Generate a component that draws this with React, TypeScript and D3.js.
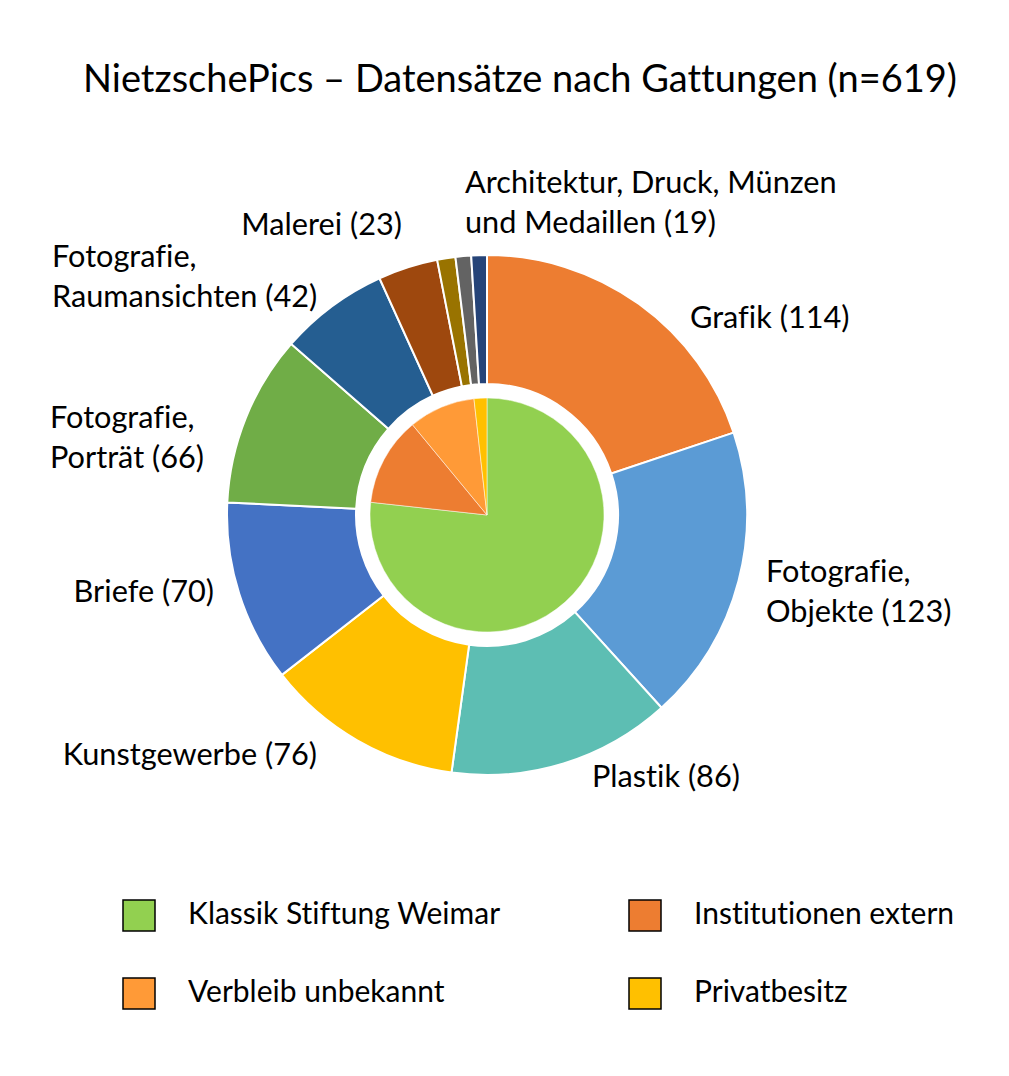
import React from "react";
import * as d3 from "d3";

// ---- data ----
const titleText = "NietzschePics – Datensätze nach Gattungen (n=619)";

// outer ring: categories clockwise from 12 o'clock, slice sizes as drawn in the picture
const outerCategories = [
  "Grafik",
  "Fotografie, Objekte",
  "Plastik",
  "Kunstgewerbe",
  "Briefe",
  "Fotografie, Porträt",
  "Fotografie, Raumansichten",
  "Malerei",
  "Architektur",
  "Druck",
  "Münzen und Medaillen",
];
const outerValues = [123, 114, 86, 76, 70, 66, 42, 23, 7, 6, 6];

// data labels exactly as printed
const outerLabelLines: string[][] = [
  ["Grafik (114)"],
  ["Fotografie,", "Objekte (123)"],
  ["Plastik (86)"],
  ["Kunstgewerbe (76)"],
  ["Briefe (70)"],
  ["Fotografie,", "Porträt (66)"],
  ["Fotografie,", "Raumansichten (42)"],
  ["Malerei (23)"],
  ["Architektur, Druck, Münzen", "und Medaillen (19)"],
];

// inner pie: holding institution
const innerCategories = [
  "Klassik Stiftung Weimar",
  "Institutionen extern",
  "Verbleib unbekannt",
  "Privatbesitz",
];
const innerValues = [475, 76, 57, 11];

// ---- styles / layout ----
const outerColors = [
  "#ED7D31",
  "#5B9BD5",
  "#5DBEB3",
  "#FFC000",
  "#4472C4",
  "#70AD47",
  "#255E91",
  "#9E480E",
  "#997300",
  "#636363",
  "#264478",
];
const innerColors = ["#92D050", "#ED7D31", "#FF9A37", "#FFC000"];

// label anchor positions (x, first baseline, anchor)
const labelLayout: { x: number; y: number; anchor: "start" | "end" }[] = [
  { x: 690, y: 328, anchor: "start" },
  { x: 766, y: 582, anchor: "start" },
  { x: 592, y: 787, anchor: "start" },
  { x: 317, y: 765, anchor: "end" },
  { x: 214, y: 602, anchor: "end" },
  { x: 50, y: 428, anchor: "start" },
  { x: 52, y: 267, anchor: "start" },
  { x: 402, y: 235, anchor: "end" },
  { x: 465, y: 193, anchor: "start" },
];

const legendLayout = [
  { x: 123, y: 900 },
  { x: 629, y: 900 },
  { x: 123, y: 978 },
  { x: 629, y: 978 },
];

const W = 1009;
const H = 1076;
const cx = 487;
const cy = 515;
const FONT = "Lato, 'Open Sans', sans-serif";
const noLig: React.CSSProperties = {
  fontVariantLigatures: "none",
  fontFeatureSettings: '"liga" 0, "clig" 0',
};

export default function App() {
  const outerPie = d3
    .pie<number>()
    .sort(null)
    .value((d) => d)(outerValues);
  const innerPie = d3
    .pie<number>()
    .sort(null)
    .value((d) => d)(innerValues);

  const outerArc = d3
    .arc<d3.PieArcDatum<number>>()
    .innerRadius(131)
    .outerRadius(260);
  const innerArc = d3
    .arc<d3.PieArcDatum<number>>()
    .innerRadius(0)
    .outerRadius(117);

  return (
    <svg
      width={W}
      height={H}
      viewBox={`0 0 ${W} ${H}`}
      style={{ position: "absolute", left: 0, top: 0, background: "#fff", ...noLig }}
      fontFamily={FONT}
    >
      <rect x={0} y={0} width={W} height={H} fill="#fff" />
      <text x={520} y={92} textAnchor="middle" fontSize={38} fill="#000" style={noLig}>
        {titleText}
      </text>

      <g transform={`translate(${cx},${cy})`}>
        {outerPie.map((d, i) => (
          <path
            key={outerCategories[i]}
            d={outerArc(d) || ""}
            fill={outerColors[i]}
            stroke="#fff"
            strokeWidth={2}
          />
        ))}
        {innerPie.map((d, i) => (
          <path
            key={innerCategories[i]}
            d={innerArc(d) || ""}
            fill={innerColors[i]}
            stroke="#fff"
            strokeWidth={0.5}
          />
        ))}
      </g>

      {outerLabelLines.map((lines, i) => (
        <text
          key={i}
          x={labelLayout[i].x}
          y={labelLayout[i].y}
          textAnchor={labelLayout[i].anchor}
          fontSize={30.7}
          fill="#000"
          style={noLig}
        >
          {lines.map((ln, j) => (
            <tspan key={j} x={labelLayout[i].x} dy={j === 0 ? 0 : 39.5}>
              {ln}
            </tspan>
          ))}
        </text>
      ))}

      {innerCategories.map((c, i) => (
        <g key={c}>
          <rect
            x={legendLayout[i].x}
            y={legendLayout[i].y}
            width={32}
            height={31}
            fill={innerColors[i]}
            stroke="#000"
            strokeWidth={1.5}
          />
          <text
            x={legendLayout[i].x + 65}
            y={legendLayout[i].y + 24}
            fontSize={30}
            fill="#000"
            style={noLig}
          >
            {c}
          </text>
        </g>
      ))}
    </svg>
  );
}
